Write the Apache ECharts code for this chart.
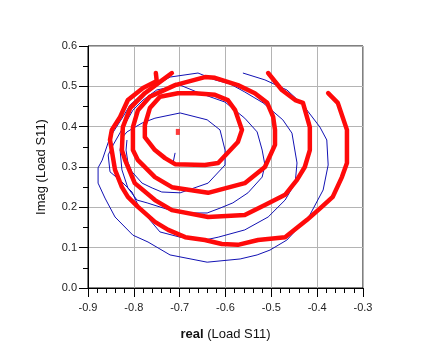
<!DOCTYPE html>
<html>
<head>
<meta charset="utf-8">
<script src="https://cdn.jsdelivr.net/npm/echarts@6/dist/echarts.min.js"></script>
<style>
html,body{margin:0;padding:0;background:#fff;}
#chart{width:435px;height:358px;}
</style>
</head>
<body>
<div id="chart"></div>
<script>
// Axis ticks
var xTicks = [-0.9, -0.8, -0.7, -0.6, -0.5, -0.4, -0.3];
var yTicks = [0.0, 0.1, 0.2, 0.3, 0.4, 0.5, 0.6];

// Blue spiral (thin), [real, imag]
var blueSpiral = [
  [-0.562,0.533],[-0.514,0.516],[-0.466,0.491],[-0.431,0.454],[-0.394,0.399],[-0.379,0.367],
  [-0.376,0.305],[-0.387,0.243],[-0.416,0.181],[-0.466,0.119],[-0.503,0.094],[-0.531,0.082],
  [-0.568,0.072],[-0.640,0.064],[-0.721,0.082],[-0.769,0.114],[-0.802,0.131],[-0.841,0.176],
  [-0.863,0.223],[-0.878,0.260],[-0.878,0.298],[-0.869,0.317],[-0.852,0.374],[-0.824,0.424],
  [-0.808,0.454],[-0.780,0.483],[-0.721,0.523],[-0.660,0.533],[-0.623,0.516],
  [-0.590,0.506],[-0.558,0.486],[-0.518,0.459],[-0.475,0.417],[-0.455,0.384],[-0.444,0.310],
  [-0.448,0.260],[-0.470,0.218],[-0.507,0.176],[-0.558,0.144],[-0.616,0.126],[-0.645,0.119],
  [-0.699,0.126],[-0.743,0.139],[-0.769,0.174],[-0.791,0.206],[-0.804,0.238],[-0.826,0.263],
  [-0.852,0.288],[-0.856,0.330],[-0.845,0.355],[-0.824,0.397],[-0.802,0.441],[-0.780,0.466],
  [-0.750,0.491],[-0.699,0.503],[-0.656,0.483],
  [-0.601,0.461],[-0.558,0.421],[-0.531,0.387],[-0.520,0.342],[-0.514,0.305],[-0.520,0.275],
  [-0.551,0.236],[-0.584,0.211],[-0.612,0.198],[-0.640,0.186],[-0.699,0.186],[-0.721,0.193],
  [-0.771,0.211],[-0.793,0.218],[-0.813,0.248],[-0.826,0.293],[-0.830,0.342],[-0.826,0.372],
  [-0.815,0.387],[-0.782,0.409],[-0.754,0.421],[-0.699,0.434],[-0.640,0.417],[-0.612,0.392],
  [-0.601,0.342],[-0.601,0.305],[-0.638,0.260],[-0.699,0.236],[-0.739,0.238],[-0.760,0.248],
  [-0.782,0.260],[-0.804,0.288],[-0.813,0.312],[-0.817,0.342],[-0.815,0.367]
];
var blueHook = [[-0.616,0.310],[-0.645,0.305],[-0.715,0.307],[-0.710,0.335]];

// Red traces (thick)
var redA = [
  [-0.376,0.483],[-0.355,0.459],[-0.335,0.392],[-0.335,0.310],[-0.346,0.275],[-0.366,0.226],
  [-0.390,0.201],[-0.422,0.169],[-0.470,0.126],[-0.529,0.119],[-0.573,0.107],[-0.608,0.109],
  [-0.645,0.119],[-0.688,0.126],[-0.725,0.144],[-0.754,0.164],[-0.791,0.201],[-0.813,0.226],
  [-0.826,0.250],[-0.841,0.293],[-0.852,0.367],[-0.848,0.392],[-0.830,0.424],[-0.813,0.466],
  [-0.780,0.496],[-0.750,0.513],[-0.752,0.533]
];
var redB = [
  [-0.507,0.533],[-0.477,0.491],[-0.448,0.466],[-0.431,0.459],[-0.416,0.399],[-0.416,0.342],
  [-0.427,0.300],[-0.444,0.268],[-0.470,0.231],[-0.514,0.206],[-0.558,0.181],[-0.638,0.176],
  [-0.717,0.193],[-0.754,0.218],[-0.798,0.260],[-0.819,0.317],[-0.826,0.342],[-0.824,0.399],
  [-0.808,0.446],[-0.776,0.483],[-0.743,0.511],[-0.717,0.533]
];
var redC = [
  [-0.710,0.503],[-0.645,0.523],[-0.623,0.521],[-0.573,0.503],[-0.536,0.483],[-0.509,0.459],
  [-0.496,0.424],[-0.492,0.392],[-0.492,0.355],[-0.514,0.300],[-0.558,0.260],[-0.638,0.236],
  [-0.717,0.250],[-0.754,0.275],[-0.791,0.317],[-0.802,0.342],[-0.802,0.399],[-0.791,0.441],
  [-0.765,0.474],[-0.710,0.503]
];
var redD = [
  [-0.666,0.483],[-0.623,0.479],[-0.595,0.466],[-0.579,0.441],[-0.564,0.392],[-0.573,0.362],
  [-0.616,0.310],[-0.645,0.305],[-0.710,0.307],[-0.732,0.322],[-0.754,0.342],[-0.776,0.374],
  [-0.776,0.404],[-0.765,0.446],[-0.743,0.474],[-0.704,0.483],[-0.666,0.483]
];
var redMarker = [[-0.704,0.387]];

var FONT = '"Liberation Sans", Arial, sans-serif';
var RED = '#ff0a0a';
var BLUE = '#1212b4';

function redLine(d){
  return {type:'line', data:d, showSymbol:false, symbol:'none', smooth:false, z:5,
    lineStyle:{color:RED, width:4.5, join:'round', cap:'round'}, silent:true, animation:false};
}

var chart = echarts.init(document.getElementById('chart'));
chart.setOption({
  animation:false,
  backgroundColor:'#fff',
  grid:{left:88, top:46, right:72, bottom:70, show:true, borderColor:'#000', borderWidth:1, backgroundColor:'transparent'},
  xAxis:{
    type:'value', min:xTicks[0], max:xTicks[xTicks.length-1], interval:0.1,
    name:'{b|real} (Load S11)', nameLocation:'middle', nameGap:40,
    nameTextStyle:{fontFamily:FONT, fontSize:13, color:'#111', rich:{b:{fontFamily:FONT, fontSize:13, fontWeight:'bold', color:'#111'}}},
    axisLine:{show:true, onZero:false, lineStyle:{color:'#000', width:1}},
    axisTick:{show:true, length:9, lineStyle:{color:'#000'}},
    minorTick:{show:true, splitNumber:5, length:5, lineStyle:{color:'#000'}},
    splitLine:{show:true, lineStyle:{color:'#b4b4b4', width:1}},
    axisLabel:{fontFamily:FONT, fontSize:11, color:'#222', margin:14, formatter:function(v){return v.toFixed(1);}}
  },
  yAxis:{
    type:'value', min:yTicks[0], max:yTicks[yTicks.length-1], interval:0.1,
    name:'Imag (Load S11)', nameLocation:'middle', nameGap:40, nameRotate:90,
    nameTextStyle:{fontFamily:FONT, fontSize:13, color:'#111'},
    axisLine:{show:true, onZero:false, lineStyle:{color:'#000', width:1}},
    axisTick:{show:true, length:9, lineStyle:{color:'#000'}},
    minorTick:{show:true, splitNumber:2, length:5, lineStyle:{color:'#000'}},
    splitLine:{show:true, lineStyle:{color:'#b4b4b4', width:1}},
    axisLabel:{fontFamily:FONT, fontSize:11, color:'#222', margin:11, formatter:function(v){return v.toFixed(1);}}
  },
  series:[
    {type:'line', data:blueSpiral, showSymbol:false, symbol:'none', smooth:false, z:3,
     lineStyle:{color:BLUE, width:1}, silent:true},
    {type:'line', data:blueHook, showSymbol:false, symbol:'none', smooth:false, z:3,
     lineStyle:{color:BLUE, width:1}, silent:true},
    redLine(redA), redLine(redB), redLine(redC), redLine(redD),
    {type:'scatter', data:redMarker, symbol:'rect', symbolSize:[4,6], z:6,
     itemStyle:{color:RED}, silent:true}
  ]
});
</script>
</body>
</html>
